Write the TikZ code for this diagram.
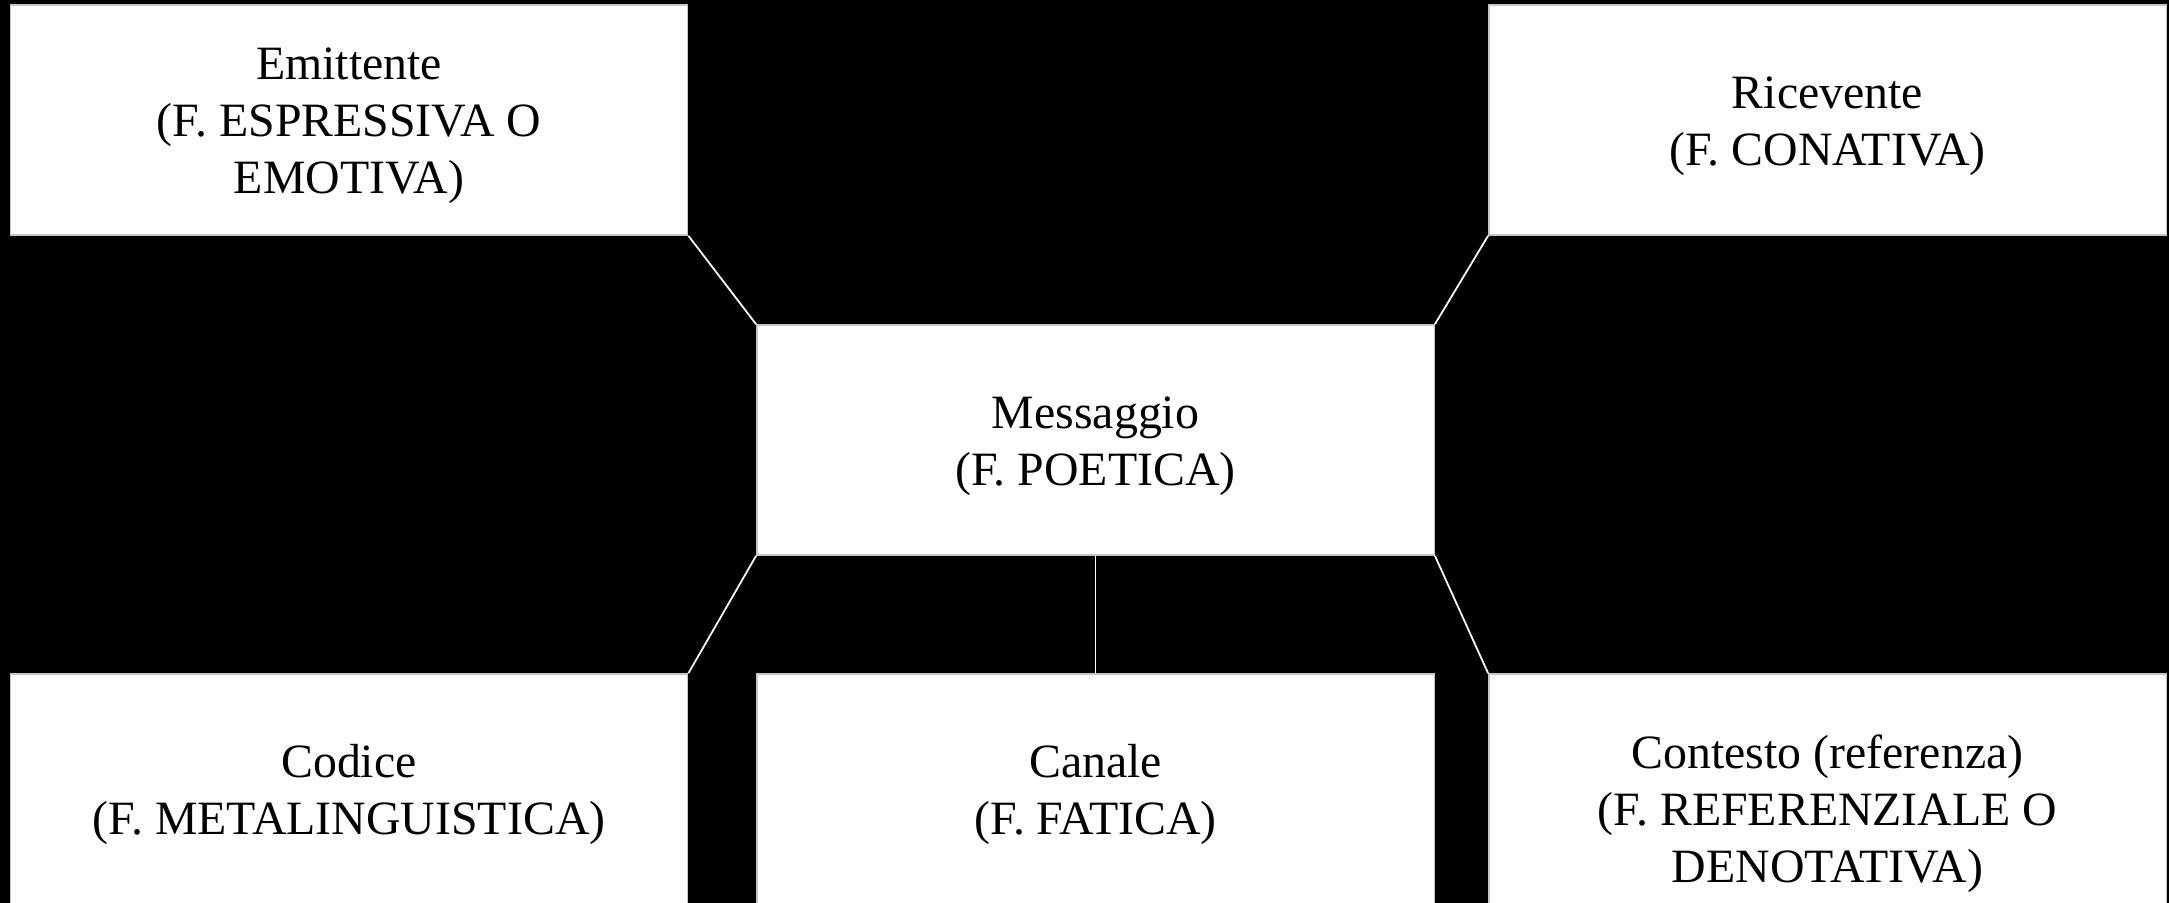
\documentclass[tikz,border=0pt]{standalone}
\usepackage{fontspec}
\setmainfont{Liberation Serif}
\newcommand{\padtop}[1]{\rule{0pt}{#1}}
\begin{document}
\begin{tikzpicture}[x=0.01cm,y=-0.01cm,
  box/.style={draw=gray!45,line width=0.4pt,fill=white,align=center,
    minimum width=6.77cm,minimum height=2.30cm,inner sep=0pt,
    font=\fontsize{13.6pt}{16.2pt}\selectfont},
  link/.style={draw=white,line width=0.5pt}]
\fill[black] (0,0) rectangle (2169,903);
\useasboundingbox (0,0) rectangle (2169,903);
\node[box] (emit) at (349,120) {\padtop{12.4pt}Emittente\\(F. ESPRESSIVA O\\EMOTIVA)};
\node[box] (ric) at (1827.5,120) {\padtop{12.4pt}Ricevente\\(F. CONATIVA)};
\node[box] (msg) at (1095.5,440) {\padtop{12.4pt}Messaggio\\(F. POETICA)};
\node[box] (cod) at (349,789) {\padtop{12.4pt}Codice\\(F. METALINGUISTICA)};
\node[box] (can) at (1095.5,789) {\padtop{12.4pt}Canale\\(F. FATICA)};
\node[box] (cont) at (1827.5,789) {\padtop{23.5pt}Contesto (referenza)\\(F. REFERENZIALE O\\DENOTATIVA)};
\draw[link] (emit.south east) -- (msg.north west);
\draw[link] (ric.south west) -- (msg.north east);
\draw[link] (msg.south west) -- (cod.north east);
\draw[link] (msg.south east) -- (cont.north west);
\draw[link] (msg.south) -- (can.north);
\end{tikzpicture}
\end{document}
